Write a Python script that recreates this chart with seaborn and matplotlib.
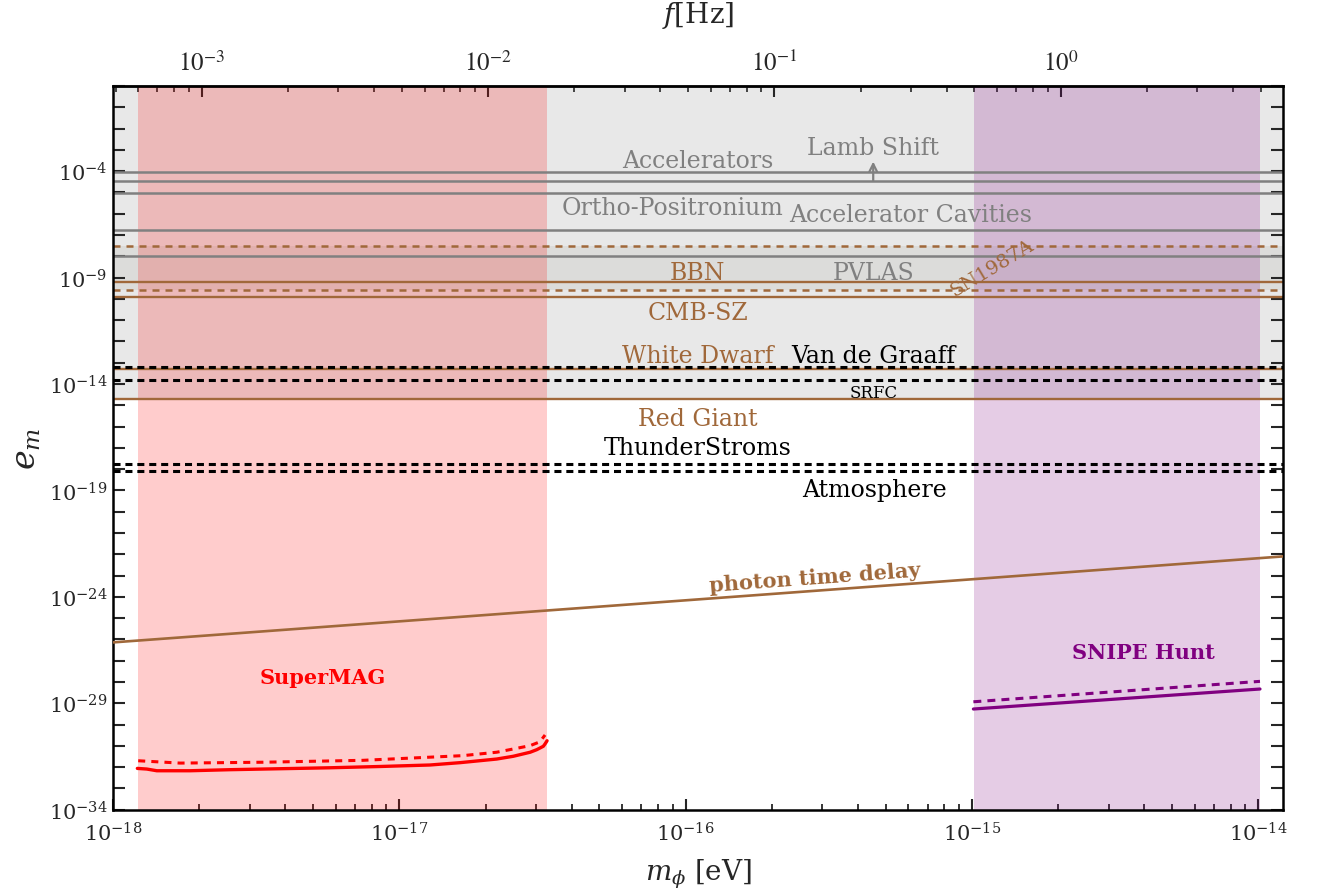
import numpy as np
import pandas as pd
import matplotlib
matplotlib.use("Agg")
import matplotlib.pyplot as plt
import seaborn as sns
from matplotlib.ticker import LogLocator, FixedLocator, NullFormatter, LogFormatterMathtext

# ------------------------------------------------------------------ data
# horizontal exclusion limits (e_m)
gray_limits = [10**-4.05, 10**-4.45, 10**-5.01, 10**-6.75, 10**-8.00]
brown_solid_limits = [10**-9.22, 10**-9.93, 10**-13.31, 10**-14.71]
brown_dashed_limits = [10**-7.53, 10**-9.58]
black_dashed_limits = [10**-13.22, 10**-13.81, 10**-17.76, 10**-18.10]

# shaded regions
gray_band = [10**-14.71, 1.0]
sn_band = [10**-9.58, 10**-7.53]
supermag_band = [1.225e-18, 3.27e-17]
snipe_band = [1.02e-15, 1.01e-14]

# SuperMAG curves
supermag_solid_m = [10**-17.915, 10**-17.882, 10**-17.847, 10**-17.731, 10**-17.591,
                    10**-17.242, 10**-17.067, 10**-16.893, 10**-16.788, 10**-16.660,
                    10**-16.602, 10**-16.543, 10**-16.520, 10**-16.497, 10**-16.491,
                    10**-16.484]
supermag_solid_e = [10**-32.06, 10**-32.09, 10**-32.17, 10**-32.17, 10**-32.12,
                    10**-32.03, 10**-31.97, 10**-31.90, 10**-31.79, 10**-31.62,
                    10**-31.49, 10**-31.30, 10**-31.18, 10**-31.02, 10**-30.91,
                    10**-30.76]
supermag_dash_m = [10**-17.912, 10**-17.766, 10**-17.476, 10**-17.127, 10**-16.778,
                   10**-16.660, 10**-16.603, 10**-16.543, 10**-16.509, 10**-16.491]
supermag_dash_e = [10**-31.70, 10**-31.81, 10**-31.77, 10**-31.68, 10**-31.46,
                   10**-31.30, 10**-31.15, 10**-30.99, 10**-30.81, 10**-30.49]

# SNIPE Hunt curves
snipe_m = [10**-14.995, 10**-13.994]
snipe_solid_e = [10**-29.27, 10**-28.33]
snipe_dash_e = [10**-28.93, 10**-27.97]

# photon time delay
photon_m = [1e-18, 1.22e-14]
photon_e = [10**-26.14, 10**-22.10]

# axes
x_range = [1e-18, 1.22e-14]
y_range = [1e-34, 1.0]
x_major = [1e-18, 1e-17, 1e-16, 1e-15, 1e-14]
y_major = [1e-4, 1e-9, 1e-14, 1e-19, 1e-24, 1e-29, 1e-34]
y_minor = [10.0**-k for k in range(0, 35)]
f_per_eV = 4.9e14
f_ticks = [1e-3, 1e-2, 1e-1, 1e0]
f_labels = [r"$10^{-3}$", r"$10^{-2}$", r"$10^{-1}$", r"$10^{0}$"]

# text labels: (text, m, e, color, size, weight, rotation)
GRAY = "#808080"
BROWN = "#a0683a"
labels = [
    ("Accelerators", 1.10e-16, 10**-3.48, GRAY, 17, "normal", 0),
    ("Lamb Shift", 4.52e-16, 10**-2.87, GRAY, 17, "normal", 0),
    ("Ortho-Positronium", 9.0e-17, 10**-5.73, GRAY, 17, "normal", 0),
    ("Accelerator Cavities", 6.1e-16, 10**-6.06, GRAY, 17, "normal", 0),
    ("BBN", 1.10e-16, 10**-8.74, BROWN, 17, "normal", 0),
    ("PVLAS", 4.55e-16, 10**-8.74, GRAY, 17, "normal", 0),
    ("SN1987A", 1.175e-15, 10**-8.55, BROWN, 14, "normal", 31),
    ("CMB-SZ", 1.10e-16, 10**-10.62, BROWN, 17, "normal", 0),
    ("White Dwarf", 1.10e-16, 10**-12.68, BROWN, 17, "normal", 0),
    ("Van de Graaff", 4.52e-16, 10**-12.68, "black", 17, "normal", 0),
    ("SRFC", 4.52e-16, 10**-14.38, "black", 12, "normal", 0),
    ("Red Giant", 1.10e-16, 10**-15.64, BROWN, 17, "normal", 0),
    ("ThunderStroms", 1.10e-16, 10**-16.96, "black", 17, "normal", 0),
    ("Atmosphere", 4.55e-16, 10**-18.98, "black", 17, "normal", 0),
    ("photon time delay", 2.83e-16, 10**-23.07, BROWN, 15, "bold", 4.2),
    ("SuperMAG", 5.41e-18, 10**-27.77, "#ff0000", 15, "bold", 0),
    ("SNIPE Hunt", 3.96e-15, 10**-26.61, "#800080", 15, "bold", 0),
]
lamb_arrow = (4.52e-16, 10**-4.45, 10**-3.55)

# ------------------------------------------------------------------ style
sns.set_theme(style="ticks")
plt.rcParams["font.family"] = ["DejaVu Serif"]
plt.rcParams["mathtext.fontset"] = "dejavuserif"

fig = plt.figure(figsize=(13.29, 8.95), dpi=100)
ax = fig.add_axes([0.08503, 0.09419, 0.88036, 0.80860])
ax.set_xscale("log")
ax.set_yscale("log")
ax.set_xlim(*x_range)
ax.set_ylim(*y_range)

# shaded regions
ax.axhspan(gray_band[0], gray_band[1], color="#e8e8e8", lw=0, zorder=0)
ax.axhspan(sn_band[0], sn_band[1], color=(0.45, 0.45, 0.40), alpha=0.10, lw=0, zorder=0.5)
ax.axvspan(supermag_band[0], supermag_band[1], color="#ff0000", alpha=0.2, lw=0, zorder=1)
ax.axvspan(snipe_band[0], snipe_band[1], color="#800080", alpha=0.2, lw=0, zorder=1)

# horizontal limits
for v in gray_limits:
    ax.axhline(v, color=GRAY, lw=1.8, zorder=2)
for v in brown_solid_limits:
    ax.axhline(v, color=BROWN, lw=1.7, zorder=2)
for v in brown_dashed_limits:
    ax.axhline(v, color=BROWN, lw=1.8, dashes=(2.8, 2.4), zorder=2)
for v in black_dashed_limits:
    ax.axhline(v, color="black", lw=2.2, dashes=(2.3, 1.6), zorder=3)

# curves via seaborn
def sline(x, y, color, lw, dashes=None):
    df = pd.DataFrame({"m": x, "e": y})
    sns.lineplot(data=df, x="m", y="e", ax=ax, color=color, linewidth=lw,
                 estimator=None, sort=False, zorder=4)
    line = ax.lines[-1]
    line.set_solid_joinstyle("round")
    line.set_solid_capstyle("round")
    if dashes is not None:
        line.set_dashes(dashes)

sline(photon_m, photon_e, BROWN, 1.9)
sline(supermag_solid_m, supermag_solid_e, "#ff0000", 2.4)
sline(supermag_dash_m, supermag_dash_e, "#ff0000", 2.2, (2.3, 2.0))
sline(snipe_m, snipe_solid_e, "#800080", 2.3)
sline(snipe_m, snipe_dash_e, "#800080", 2.2, (2.6, 2.0))

# text
for t, xm, ye, c, s, w, r in labels:
    ax.text(xm, ye, t, color=c, fontsize=s, fontweight=w, rotation=r,
            ha="center", va="center", rotation_mode="anchor", zorder=5)
ax.annotate("", xy=(lamb_arrow[0], lamb_arrow[2]), xytext=(lamb_arrow[0], lamb_arrow[1]),
            arrowprops=dict(arrowstyle="->", color=GRAY, lw=1.6, mutation_scale=14,
                            shrinkA=0, shrinkB=0), zorder=5)

# axes / ticks
for sp in ax.spines.values():
    sp.set_linewidth(1.8)
    sp.set_color("black")
ax.xaxis.set_major_locator(FixedLocator(x_major))
ax.xaxis.set_major_formatter(LogFormatterMathtext())
ax.xaxis.set_minor_locator(LogLocator(base=10, subs=np.arange(2, 10), numticks=50))
ax.xaxis.set_minor_formatter(NullFormatter())
ax.yaxis.set_major_locator(FixedLocator(y_major))
ax.yaxis.set_minor_locator(FixedLocator(y_minor))
ax.yaxis.set_major_formatter(LogFormatterMathtext())
ax.yaxis.set_minor_formatter(NullFormatter())
ax.tick_params(axis="x", which="major", direction="in", length=8, width=1.5,
               labelsize=15, top=False, bottom=True, pad=8)
ax.tick_params(axis="x", which="minor", direction="in", length=4.3, width=1.3, top=False)
ax.tick_params(axis="y", which="both", direction="in", length=8.6, width=1.5,
               left=True, right=True, labelsize=15, pad=4)

ax.set_xlabel(r"$m_\phi$ [eV]", fontsize=20, labelpad=9)
ax.set_ylabel(r"$e_m$", fontsize=24, labelpad=4)

secax = ax.secondary_xaxis("top", functions=(lambda m: m * f_per_eV, lambda f: f / f_per_eV))
secax.set_xticks(f_ticks, labels=f_labels, math_fontfamily="stix", fontsize=18)
secax.tick_params(axis="x", which="major", direction="in", length=8, width=1.5, pad=8)
secax.tick_params(axis="x", which="minor", direction="in", length=4.5, width=1.2)
secax.xaxis.set_minor_formatter(NullFormatter())
secax.set_xlabel(r"$f$[Hz]", fontsize=20, labelpad=20)
secax.spines["top"].set_linewidth(1.8)

fig.savefig("out.png", dpi=100)
